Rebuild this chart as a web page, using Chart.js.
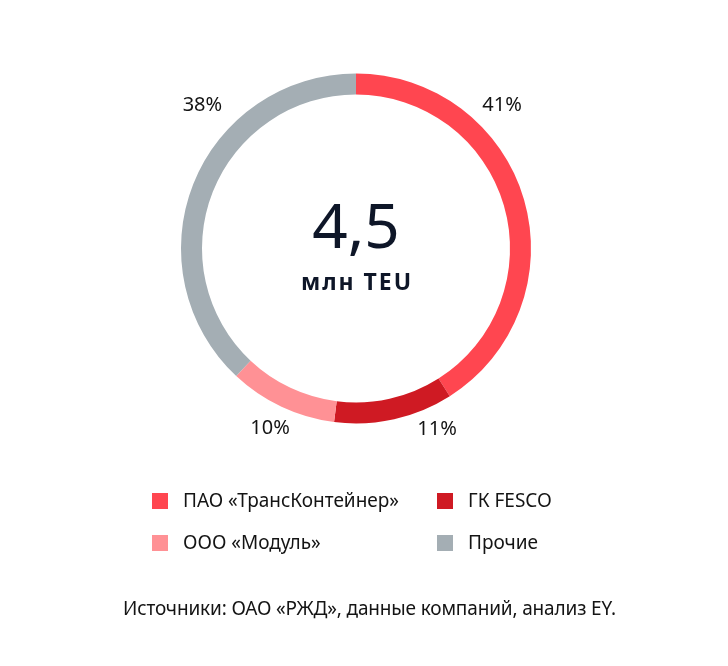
<!DOCTYPE html>
<html>
<head>
<meta charset="utf-8">
<script src="https://cdn.jsdelivr.net/npm/chart.js@4/dist/chart.umd.min.js"></script>
<style>
  body{margin:0;background:#fff;font-family:"Noto Sans",sans-serif;color:#141414;}
  #wrap{position:relative;width:728px;height:666px;}
  #c{position:absolute;left:0;top:0;}
  .leg{position:absolute;font-size:19px;line-height:20px;white-space:nowrap;}
  .leg i{position:absolute;left:0;top:2px;width:16px;height:16px;}
  .leg span{position:absolute;left:31px;top:-1px;}
  #src{position:absolute;left:123px;top:595px;font-size:19px;white-space:nowrap;letter-spacing:-0.15px;}
</style>
</head>
<body>
<div id="wrap">
  <canvas id="c" width="728" height="666"></canvas>
  <div id="legend"></div>
  <div id="src">Источники: ОАО «РЖД», данные компаний, анализ EY.</div>
</div>
<script>
// data
const companies = ['ПАО «ТрансКонтейнер»','ГК FESCO','ООО «Модуль»','Прочие'];
const shares = [41, 11, 10, 38];
const colors = ['#ff4650','#cf1a23','#ff9195','#a4aeb4'];
const totalValue = '4,5';
const totalUnit = 'млн TEU';

// where each % label sits: angle from top (deg, clockwise) and distance / outer radius
const labelPos = [{a:45.5,d:1.17},{a:155.8,d:1.13},{a:205.5,d:1.14},{a:-47,d:1.2}];

const centerText = {
  id:'centerText',
  afterDraw(chart){
    const {ctx} = chart;
    const arc = chart.getDatasetMeta(0).data[0];
    const x = arc.x, y = arc.y;
    ctx.save();
    ctx.fillStyle = '#0e1628';
    ctx.textAlign = 'center';
    ctx.textBaseline = 'alphabetic';
    ctx.font = '400 62px "Noto Sans"';
    ctx.fillText(totalValue, x, y - 1);
    ctx.font = '700 23px "Noto Sans"';
    ctx.letterSpacing = '2px';
    ctx.fillText(totalUnit, x + 1, y + 41);
    ctx.letterSpacing = '0px';
    // percentages
    ctx.fillStyle = '#141414';
    ctx.font = '400 20px "Noto Sans"';
    ctx.textBaseline = 'middle';
    shares.forEach((v,i)=>{
      const p = labelPos[i], r = arc.outerRadius * p.d, t = p.a * Math.PI/180;
      ctx.fillText(v + '%', x + r*Math.sin(t), y - r*Math.cos(t));
    });
    ctx.restore();
  }
};

new Chart(document.getElementById('c'), {
  type:'doughnut',
  data:{labels:companies, datasets:[{data:shares, backgroundColor:colors, borderWidth:0, radius:175, cutout:'88%'}]},
  options:{
    responsive:false, animation:false, events:[],
    layout:{padding:{left:0, right:16, top:0, bottom:169}},
    plugins:{legend:{display:false}, tooltip:{enabled:false}}
  },
  plugins:[centerText]
});

// legend, 2 columns: [0,1] on first row, [2,3] on second
const legend = document.getElementById('legend');
const cols = [152, 437], rows = [491, 533];
companies.forEach((name,i)=>{
  const d = document.createElement('div');
  d.className = 'leg';
  d.style.left = cols[i%2] + 'px';
  d.style.top = rows[Math.floor(i/2)] + 'px';
  d.innerHTML = `<i style="background:${colors[i]}"></i><span>${name}</span>`;
  legend.appendChild(d);
});
</script>
</body>
</html>
